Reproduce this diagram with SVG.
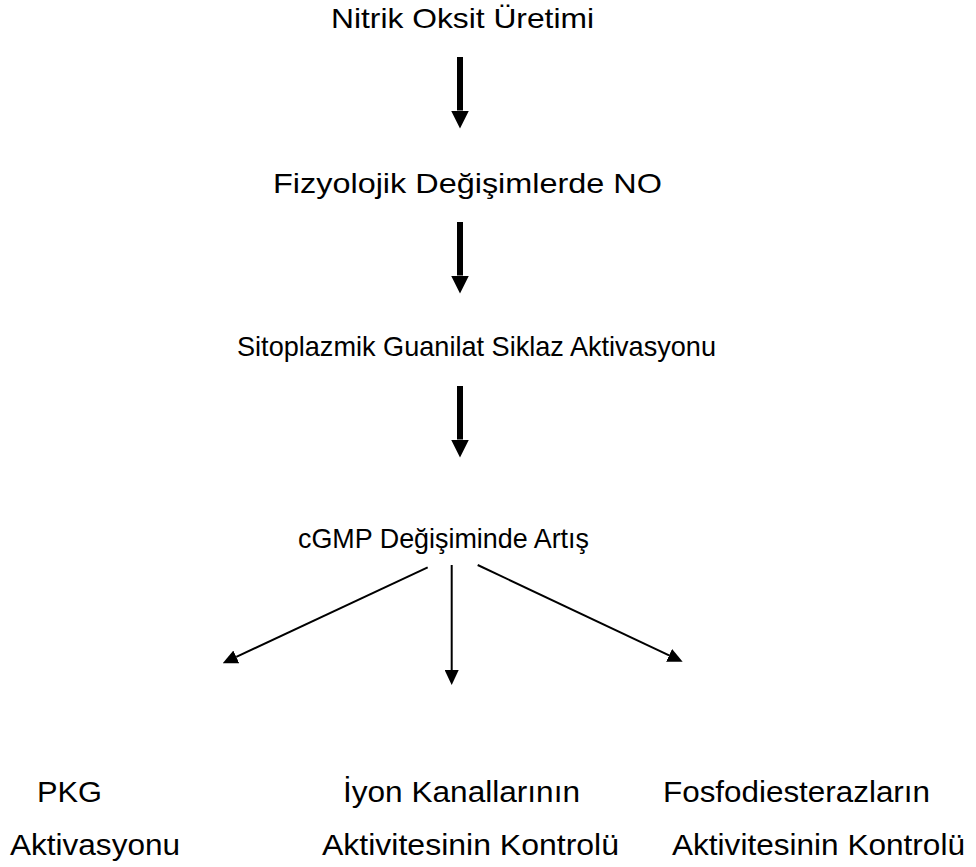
<svg xmlns="http://www.w3.org/2000/svg" width="976" height="867" viewBox="0 0 976 867">
<style>
text{font-family:"Liberation Sans",Arial,sans-serif;font-size:28px;fill:#000}
.big{font-size:30px}
.thick{stroke:#000;stroke-width:6;fill:none}
.thin{stroke:#000;stroke-width:2;fill:none}
</style>
<defs>
<marker id="bighead" markerUnits="userSpaceOnUse" viewBox="0 0 18 18" markerWidth="18" markerHeight="18" refX="0" refY="9" orient="auto"><path d="M0,0 L18,9 L0,18 z" fill="#000"/></marker>
<marker id="smallhead" markerUnits="userSpaceOnUse" viewBox="0 0 15 14" markerWidth="15" markerHeight="14" refX="0" refY="7" orient="auto"><path d="M0,0 L15,7 L0,14 z" fill="#000"/></marker>
</defs>
<rect width="976" height="867" fill="#fff"/>
<g id="n1"><text x="331" y="28" textLength="263" lengthAdjust="spacingAndGlyphs">Nitrik Oksit Üretimi</text></g>
<g id="n2"><text x="273" y="193" textLength="389" lengthAdjust="spacingAndGlyphs">Fizyolojik Değişimlerde NO</text></g>
<g id="n3"><text x="237" y="356" textLength="479" lengthAdjust="spacingAndGlyphs">Sitoplazmik Guanilat Siklaz Aktivasyonu</text></g>
<g id="n4"><text x="298" y="548" textLength="291" lengthAdjust="spacingAndGlyphs">cGMP Değişiminde Artış</text></g>
<g id="n5"><text class="big" x="37" y="802" textLength="65" lengthAdjust="spacingAndGlyphs">PKG</text><text class="big" x="10" y="855" textLength="170" lengthAdjust="spacingAndGlyphs">Aktivasyonu</text></g>
<g id="n6"><text class="big" x="343" y="802" textLength="237" lengthAdjust="spacingAndGlyphs">İyon Kanallarının</text><text class="big" x="322" y="855" textLength="297" lengthAdjust="spacingAndGlyphs">Aktivitesinin Kontrolü</text></g>
<g id="n7"><text class="big" x="663" y="802" textLength="267" lengthAdjust="spacingAndGlyphs">Fosfodiesterazların</text><text class="big" x="672" y="855" textLength="293" lengthAdjust="spacingAndGlyphs">Aktivitesinin Kontrolü</text></g>
<g id="connectors">
<line class="thick" x1="460" y1="57" x2="460" y2="110.5" marker-end="url(#bighead)"/>
<line class="thick" x1="460" y1="222" x2="460" y2="275.5" marker-end="url(#bighead)"/>
<line class="thick" x1="460" y1="386" x2="460" y2="439.5" marker-end="url(#bighead)"/>
<line class="thin" x1="427.7" y1="567.3" x2="236.3" y2="656.9" marker-end="url(#smallhead)"/>
<line class="thin" x1="451.7" y1="565" x2="451.7" y2="670" marker-end="url(#smallhead)"/>
<line class="thin" x1="477.7" y1="565" x2="669.1" y2="655.3" marker-end="url(#smallhead)"/>
</g>
</svg>
